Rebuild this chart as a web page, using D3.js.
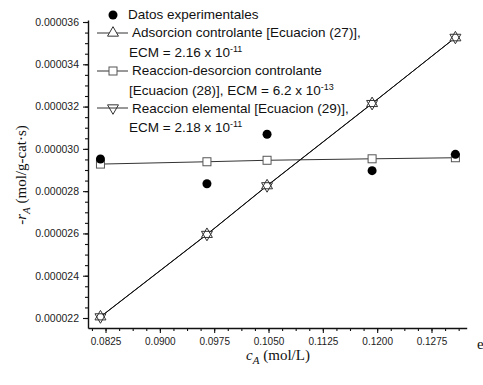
<!DOCTYPE html>
<html>
<head>
<meta charset="utf-8">
<script src="https://cdn.jsdelivr.net/npm/d3@7"></script>
<style>
  body { margin: 0; background: #fff; }
  svg { display: block; }
  .tick text { font-family: "Liberation Sans", Arial, sans-serif; font-size: 10px; fill: #222; }
  .yax .tick text { font-size: 10.5px; }
  .leg { font-family: "Liberation Sans", Arial, sans-serif; font-size: 13.5px; fill: #111; }
  .ttl { font-family: "Liberation Serif", "Times New Roman", serif; font-size: 15px; fill: #111; }
</style>
</head>
<body>
<script>
// concentracion cA (mol/L)
var cA = [0.0818, 0.0965, 0.1048, 0.1193, 0.1308];
// velocidad -rA (mol/g-cat s)
var experimental = [29.52e-6, 28.35e-6, 30.69e-6, 28.97e-6, 29.74e-6];
var adsorcion = [22.06e-6, 25.96e-6, 28.26e-6, 32.15e-6, 35.26e-6];
var reaccionDesorcion = [29.28e-6, 29.39e-6, 29.46e-6, 29.53e-6, 29.58e-6];
var elemental = [22.05e-6, 25.95e-6, 28.25e-6, 32.14e-6, 35.27e-6];

var xTicks = [0.0825, 0.0900, 0.0975, 0.1050, 0.1125, 0.1200, 0.1275];
var yTicks = [22e-6, 24e-6, 26e-6, 28e-6, 30e-6, 32e-6, 34e-6, 36e-6];

var width = 483, height = 385;
var plotLeft = 88, plotRight = 466.7, plotTop = 20, plotBottom = 328;

var svg = d3.select("body").append("svg")
    .attr("width", width)
    .attr("height", height);

var x = d3.scaleLinear().domain([0.08008, 0.13236]).range([plotLeft, plotRight]);
var y = d3.scaleLinear().domain([21.527e-6, 36.095e-6]).range([plotBottom, plotTop]);

// minor ticks
var xMinor = d3.range(0.080625, 0.1324, 0.001875);
var yMinor = d3.range(22e-6, 36.1e-6, 0.5e-6);

svg.append("g")
    .attr("transform", "translate(0," + plotBottom + ")")
    .call(d3.axisBottom(x).tickValues(xMinor).tickSize(3).tickFormat(""))
    .call(function(g){ g.select(".domain").remove(); });

svg.append("g")
    .attr("transform", "translate(" + plotLeft + ",0)")
    .call(d3.axisLeft(y).tickValues(yMinor).tickSize(3).tickFormat(""))
    .call(function(g){ g.select(".domain").remove(); });

// X axis
svg.append("g")
    .attr("transform", "translate(0," + plotBottom + ")")
    .call(d3.axisBottom(x).tickValues(xTicks).tickSize(5).tickSizeOuter(0).tickPadding(5).tickFormat(d3.format(".4f")));

// Y axis
svg.append("g")
    .attr("class", "yax")
    .attr("transform", "translate(" + plotLeft + ",0)")
    .call(d3.axisLeft(y).tickValues(yTicks).tickSize(5).tickSizeOuter(0).tickPadding(4).tickFormat(d3.format(".6f")));

svg.selectAll(".domain").attr("stroke", "#111").attr("stroke-width", 1.4);
svg.selectAll(".tick line").attr("stroke", "#111").attr("stroke-width", 1.1);

// series lines
var line = d3.line()
    .x(function(d, i){ return x(cA[i]); })
    .y(function(d){ return y(d); });

svg.append("path").datum(reaccionDesorcion)
    .attr("d", line).attr("fill", "none").attr("stroke", "#333").attr("stroke-width", 1);
svg.append("path").datum(adsorcion)
    .attr("d", line).attr("fill", "none").attr("stroke", "#111").attr("stroke-width", 1);
svg.append("path").datum(elemental)
    .attr("d", line).attr("fill", "none").attr("stroke", "#111").attr("stroke-width", 1);

var triUp = d3.symbol().type(d3.symbolTriangle).size(52);

function drawTri(g, px, py, down){
    g.append("path")
        .attr("d", triUp())
        .attr("transform", "translate(" + px + "," + py + ")" + (down ? " rotate(180)" : ""))
        .attr("fill", "#fff").attr("fill-opacity", down ? 0 : 1)
        .attr("stroke", "#333").attr("stroke-width", 1);
}

function drawSquare(g, px, py){
    g.append("rect")
        .attr("x", px - 4).attr("y", py - 4)
        .attr("width", 8).attr("height", 8)
        .attr("fill", "#fff").attr("stroke", "#555").attr("stroke-width", 1);
}

var marks = svg.append("g");
reaccionDesorcion.forEach(function(d, i){ drawSquare(marks, x(cA[i]), y(d)); });
adsorcion.forEach(function(d, i){ drawTri(marks, x(cA[i]), y(d), false); });
elemental.forEach(function(d, i){ drawTri(marks, x(cA[i]), y(d), true); });

marks.selectAll("circle.exp")
    .data(experimental)
    .enter()
    .append("circle")
    .attr("class", "exp")
    .attr("cx", function(d, i){ return x(cA[i]); })
    .attr("cy", function(d){ return y(d); })
    .attr("r", 4.5)
    .attr("fill", "#000");

// legend
var leg = svg.append("g");
leg.append("circle").attr("cx", 113).attr("cy", 15).attr("r", 4.5).attr("fill", "#000");
leg.append("text").attr("class", "leg").attr("x", 128).attr("y", 19).text("Datos experimentales");

function legLine(yy){
    leg.append("line").attr("x1", 97).attr("x2", 128).attr("y1", yy).attr("y2", yy)
        .attr("stroke", "#333").attr("stroke-width", 1);
}
function ecm(t, mant, exp, yy){
    var tx = leg.append("text").attr("class", "leg").attr("x", 129).attr("y", yy);
    tx.append("tspan").text(t + "ECM = " + mant + " x 10");
    tx.append("tspan").attr("dy", -5).attr("font-size", "9px").text(exp);
}

legLine(33);
drawTri(leg, 113, 33, false);
leg.append("text").attr("class", "leg").attr("x", 132).attr("y", 37).text("Adsorcion controlante [Ecuacion (27)],");
ecm("", "2.16", "-11", 57);

legLine(71);
drawSquare(leg, 113, 71);
leg.append("text").attr("class", "leg").attr("x", 132).attr("y", 75).text("Reaccion-desorcion controlante");
ecm("[Ecuacion (28)], ", "6.2", "-13", 95);

legLine(108);
drawTri(leg, 113, 108, true);
leg.append("text").attr("class", "leg").attr("x", 132).attr("y", 113).text("Reaccion elemental [Ecuacion (29)],");
ecm("", "2.18", "-11", 132);

// axis titles
var xt = svg.append("text").attr("class", "ttl")
    .attr("x", 278).attr("y", 360).attr("text-anchor", "middle");
xt.append("tspan").attr("font-style", "italic").text("c");
xt.append("tspan").attr("font-style", "italic").attr("font-size", "11px").attr("dy", 4).text("A");
xt.append("tspan").attr("dy", -4).text(" (mol/L)");

var yt = svg.append("text").attr("class", "ttl")
    .attr("transform", "translate(26,175) rotate(-90)")
    .attr("text-anchor", "middle");
yt.append("tspan").attr("font-style", "italic").text("-r");
yt.append("tspan").attr("font-style", "italic").attr("font-size", "11px").attr("dy", 4).text("A");
yt.append("tspan").attr("dy", -4).text(" (mol/g-cat\u00b7s)");

// stray letter at the right edge
svg.append("text").attr("class", "ttl").attr("x", 477).attr("y", 349).attr("font-size", "11px").text("e");
</script>
</body>
</html>
